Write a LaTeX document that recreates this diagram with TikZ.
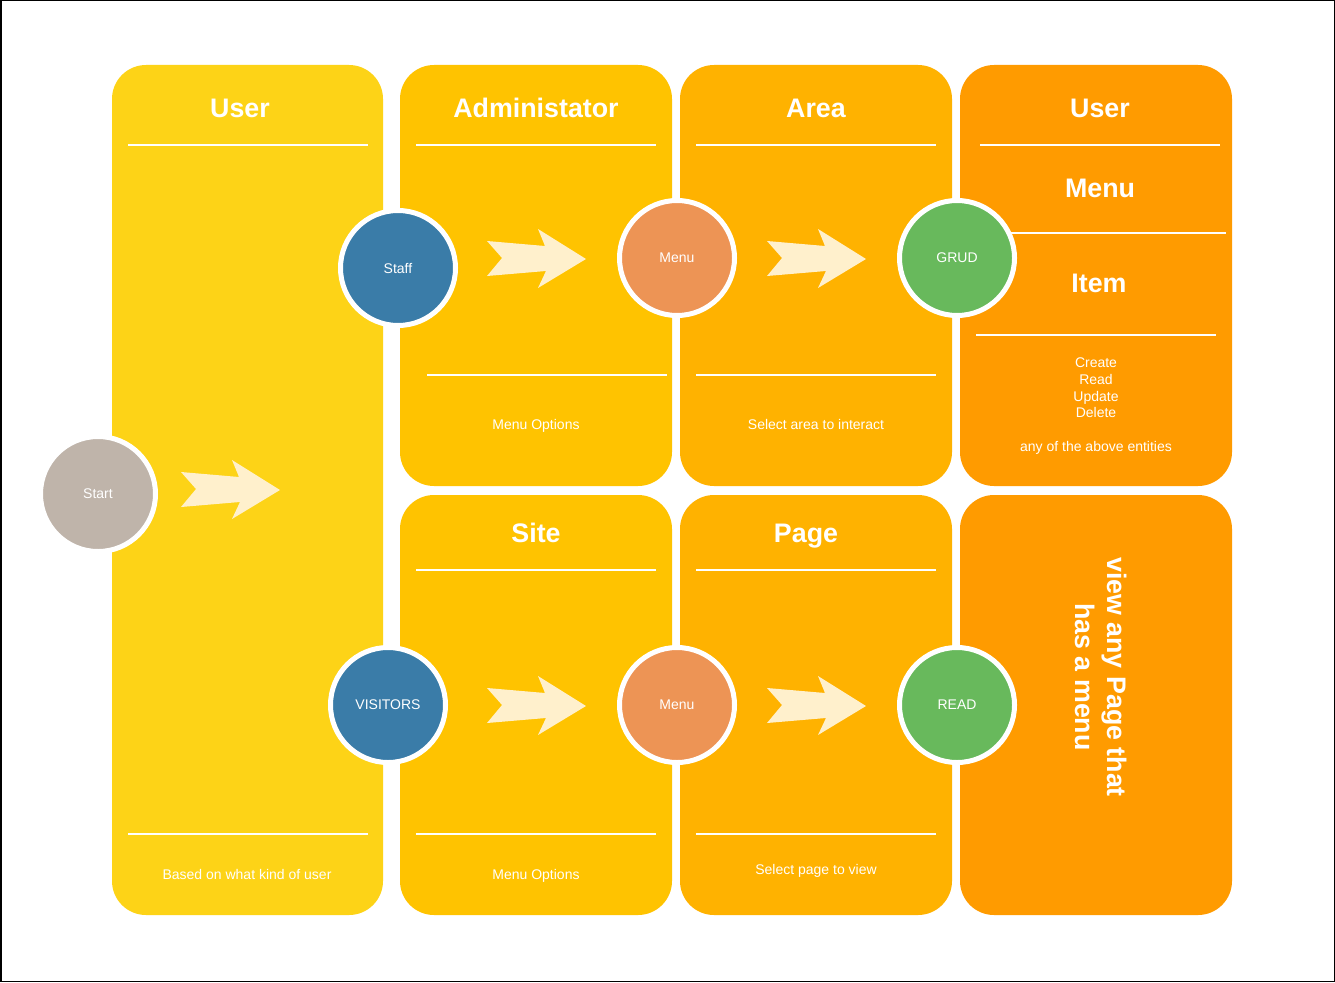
\documentclass[tikz,border=0pt]{standalone}
\usepackage{fontspec}
\setmainfont{Liberation Sans}
\begin{document}
\begin{tikzpicture}[x=1pt,y=-1pt,
  panel/.style={rounded corners=34},
  divider/.style={draw=white,line width=2},
  title/.style={text=white,font=\fontsize{26.8}{32}\selectfont\bfseries,anchor=base,inner sep=0},
  note/.style={text=white,font=\fontsize{14}{17}\selectfont,anchor=base,inner sep=0},
  stage/.style={circle,draw=white,line width=5,minimum size=115,inner sep=0,
                text=white,font=\fontsize{14}{17}\selectfont},
  fatarrow/.pic={\fill[arrowcream] (0,0) -- (-48,-30) -- (-41,-13) -- (-99,-18) -- (-84,-1)
                 -- (-99,17) -- (-40,12) -- (-48,29) -- cycle;}]
\definecolor{ylwA}{RGB}{253,211,23}
\definecolor{ylwB}{RGB}{255,195,0}
\definecolor{ylwC}{RGB}{255,178,0}
\definecolor{orng}{RGB}{255,155,0}
\definecolor{arrowcream}{RGB}{255,240,204}
\definecolor{stonegray}{RGB}{191,180,170}
\definecolor{steelblue}{RGB}{58,124,168}
\definecolor{peach}{RGB}{237,148,85}
\definecolor{leaf}{RGB}{104,185,92}

% page and frame
\useasboundingbox (0,0) rectangle (1335,982);
\fill[white] (0,0) rectangle (1335,982);
\draw[black,line width=1.5] (0.75,0.75) rectangle (1334.25,981.25);

% column panels
\fill[panel,ylwA] (112,65) rectangle (383,915);
\fill[panel,ylwB] (400,65) rectangle (672,486);
\fill[panel,ylwC] (680,65) rectangle (952,486);
\fill[panel,orng] (960,65) rectangle (1232,486);
\fill[panel,ylwB] (400,495) rectangle (672,915);
\fill[panel,ylwC] (680,495) rectangle (952,915);
\fill[panel,orng] (960,495) rectangle (1232,915);

% dividers
\draw[divider] (128,145) -- (368,145);
\draw[divider] (128,834) -- (368,834);
\draw[divider] (416,145) -- (656,145);
\draw[divider] (427,375) -- (667,375);
\draw[divider] (696,145) -- (936,145);
\draw[divider] (696,375) -- (936,375);
\draw[divider] (980,145) -- (1220,145);
\draw[divider] (986,233) -- (1226,233);
\draw[divider] (976,335) -- (1216,335);
\draw[divider] (416,570) -- (656,570);
\draw[divider] (416,834) -- (656,834);
\draw[divider] (696,570) -- (936,570);
\draw[divider] (696,834) -- (936,834);

% headings
\node[title] (tUser) at (240,117) {User};
\node[title] (tAdmin) at (536,117) {Administator};
\node[title] (tArea) at (816,117) {Area};
\node[title] (tUserR) at (1100,117) {User};
\node[title] (tMenu) at (1100,197) {Menu};
\node[title] (tItem) at (1099,292) {Item};
\node[title] (tSite) at (536,542) {Site};
\node[title] (tPage) at (806,542) {Page};
\node[title,anchor=base,rotate=-90] (vA) at (1107,677) {view any Page that};
\node[title,anchor=base,rotate=-90] (vB) at (1075,677) {has a menu};

% notes
\node[note] (nAdmin) at (536,429) {Menu Options};
\node[note] (nArea) at (816,429) {Select area to interact};
\node[note] (nC) at (1096,367) {Create};
\node[note] (nR) at (1096,384) {Read};
\node[note] (nU) at (1096,401) {Update};
\node[note] (nD) at (1096,417) {Delete};
\node[note] (nAny) at (1096,451) {any of the above entities};
\node[note] (nUser) at (247,879) {Based on what kind of user};
\node[note] (nSite) at (536,879) {Menu Options};
\node[note] (nPage) at (816,874) {Select page to view};

% arrows
\pic at (280,490) {fatarrow};
\pic at (586,259) {fatarrow};
\pic at (866,259) {fatarrow};
\pic at (586,706) {fatarrow};
\pic at (866,706) {fatarrow};

% stages
\node[stage,fill=stonegray] (start) at (98,494) {Start};
\node[stage,fill=steelblue] (staff) at (398,268) {Staff};
\node[stage,fill=peach] (menuA) at (677,258) {Menu};
\node[stage,fill=leaf] (grud) at (957,258) {GRUD};
\node[stage,fill=steelblue] (visitors) at (388,705) {VISITORS};
\node[stage,fill=peach] (menuB) at (677,705) {Menu};
\node[stage,fill=leaf] (read) at (957,705) {READ};
\end{tikzpicture}
\end{document}
